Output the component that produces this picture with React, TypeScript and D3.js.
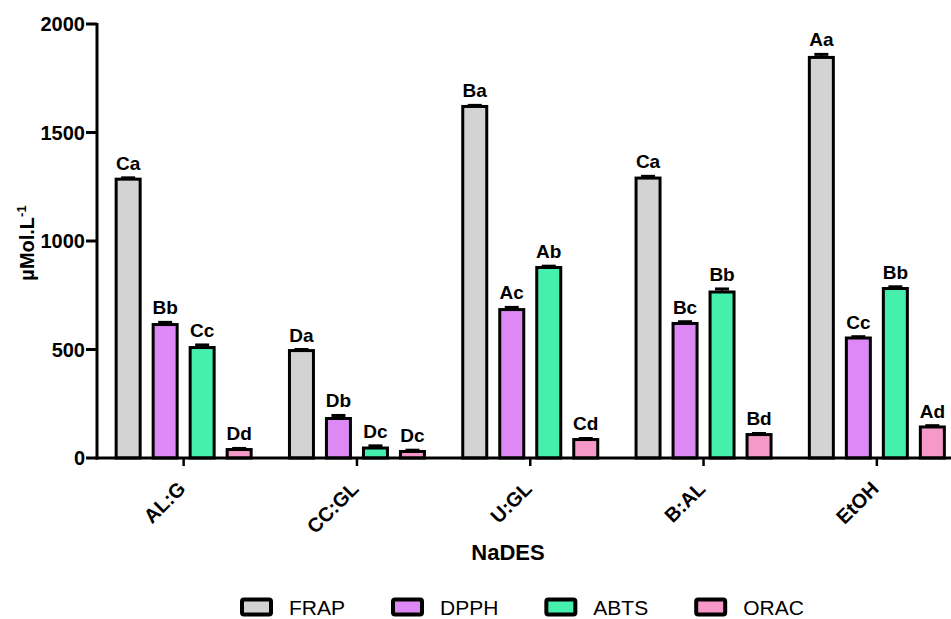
import React from "react";
import * as d3 from "d3";

// Solvents (natural deep eutectic solvents plus ethanol reference)
const categories = ["AL:G", "CC:GL", "U:GL", "B:AL", "EtOH"];
const seriesNames = ["FRAP", "DPPH", "ABTS", "ORAC"];
const seriesColors = ["#d3d3d3", "#dd88f5", "#44f0ac", "#f799c8"];

// Mean antioxidant capacity (µMol.L-1) per assay, one entry per solvent
const frapValues = [1285, 495, 1620, 1290, 1846];
const dpphValues = [615, 182, 684, 620, 553];
const abtsValues = [509, 46, 878, 765, 781];
const oracValues = [39, 30, 85, 108, 143];

// Standard deviations
const frapErrors = [6, 5, 5, 8, 14];
const dpphErrors = [10, 14, 10, 8, 6];
const abtsErrors = [12, 10, 6, 14, 8];
const oracErrors = [5, 6, 5, 5, 6];

// Statistical grouping letters
const frapLetters = ["Ca", "Da", "Ba", "Ca", "Aa"];
const dpphLetters = ["Bb", "Db", "Ac", "Bc", "Cc"];
const abtsLetters = ["Cc", "Dc", "Ab", "Bb", "Bb"];
const oracLetters = ["Dd", "Dc", "Cd", "Bd", "Ad"];

const yTicks = [0, 500, 1000, 1500, 2000];

const seriesValues = [frapValues, dpphValues, abtsValues, oracValues];
const seriesErrors = [frapErrors, dpphErrors, abtsErrors, oracErrors];
const seriesLetters = [frapLetters, dpphLetters, abtsLetters, oracLetters];

const W = 951;
const H = 619;
const FONT = "'Liberation Sans', Arial, Helvetica, sans-serif";

function textWidth(s: string, font: string): number {
  const c = document.createElement("canvas").getContext("2d");
  if (!c) return s.length * 11;
  c.font = font;
  return c.measureText(s).width;
}

export default function App() {
  const x0 = 97;
  const yTop = 24;
  const yBase = 458;

  const x = d3.scaleBand<string>().domain(categories).range([x0, x0 + 173.3 * 5]).padding(0);
  const inner = d3
    .scaleBand<string>()
    .domain(seriesNames)
    .range([-74, 74])
    .paddingInner(0)
    .paddingOuter(0);
  const y = d3.scaleLinear().domain([0, 2000]).range([yBase, yTop]);

  const barW = 24;
  const capW = 14;

  // legend layout
  const legendFont = `21px ${FONT}`;
  let lx = 240;
  const legendItems = seriesNames.map((name, i) => {
    const item = { name, color: seriesColors[i], x: lx };
    lx += 49 + textWidth(name, legendFont) + 46;
    return item;
  });

  return (
    <svg
      width={W}
      height={H}
      style={{ position: "absolute", left: 0, top: 0, background: "#fff" }}
      fontFamily={FONT}
    >
      <rect width={W} height={H} fill="#fff" />

      {/* bars */}
      {categories.map((cat, ci) => {
        const cx = (x(cat) as number) + x.bandwidth() / 2;
        return seriesNames.map((s, si) => {
          const bx = cx + (inner(s) as number) + inner.bandwidth() / 2;
          const v = seriesValues[si][ci];
          const e = seriesErrors[si][ci];
          const yv = y(v);
          const ye = y(v + e);
          return (
            <g key={cat + s}>
              <line x1={bx} x2={bx} y1={yv} y2={ye} stroke="#000" strokeWidth={2} />
              <line x1={bx - capW / 2} x2={bx + capW / 2} y1={ye} y2={ye} stroke="#000" strokeWidth={3} />
              <rect
                x={bx - barW / 2}
                y={yv}
                width={barW}
                height={yBase - yv}
                fill={seriesColors[si]}
                stroke="#000"
                strokeWidth={3}
              />
              <text
                x={bx}
                y={ye - 8}
                textAnchor="middle"
                fontSize={19}
                fontWeight="bold"
                fill="#000"
              >
                {seriesLetters[si][ci]}
              </text>
            </g>
          );
        });
      })}

      {/* y axis */}
      <line x1={x0} x2={x0} y1={yTop - 1} y2={yBase + 1.5} stroke="#000" strokeWidth={3} />
      {yTicks.map((t) => (
        <g key={t}>
          <line x1={x0 - 11} x2={x0} y1={y(t)} y2={y(t)} stroke="#000" strokeWidth={3} />
          <text
            x={x0 - 12}
            y={y(t)}
            dy="0.36em"
            textAnchor="end"
            fontSize={20}
            fontWeight="bold"
          >
            {t}
          </text>
        </g>
      ))}

      {/* x axis */}
      <line x1={x0 - 1.5} x2={W} y1={yBase} y2={yBase} stroke="#000" strokeWidth={3} />
      {categories.map((cat) => {
        const cx = (x(cat) as number) + x.bandwidth() / 2;
        return (
          <g key={cat}>
            <line x1={cx} x2={cx} y1={yBase} y2={yBase + 8} stroke="#000" strokeWidth={2.5} />
            <text
              transform={`translate(${cx + 3},${yBase + 32}) rotate(-45)`}
              textAnchor="end"
              fontSize={20}
              fontWeight="bold"
            >
              {cat}
            </text>
          </g>
        );
      })}

      {/* axis titles */}
      <text x={508} y={560} textAnchor="middle" fontSize={22} fontWeight="bold">
        NaDES
      </text>
      <text
        transform={`translate(34,243) rotate(-90)`}
        textAnchor="middle"
        fontSize={20}
        fontWeight="bold"
      >
        µMol.L
        <tspan fontSize={13} dy={-8}>
          -1
        </tspan>
      </text>

      {/* legend */}
      {legendItems.map((it) => (
        <g key={it.name}>
          <rect
            x={it.x + 2}
            y={599.5}
            width={29}
            height={15}
            rx={2}
            fill={it.color}
            stroke="#000"
            strokeWidth={4}
          />
          <text x={it.x + 49} y={615} fontSize={21}>
            {it.name}
          </text>
        </g>
      ))}
    </svg>
  );
}
